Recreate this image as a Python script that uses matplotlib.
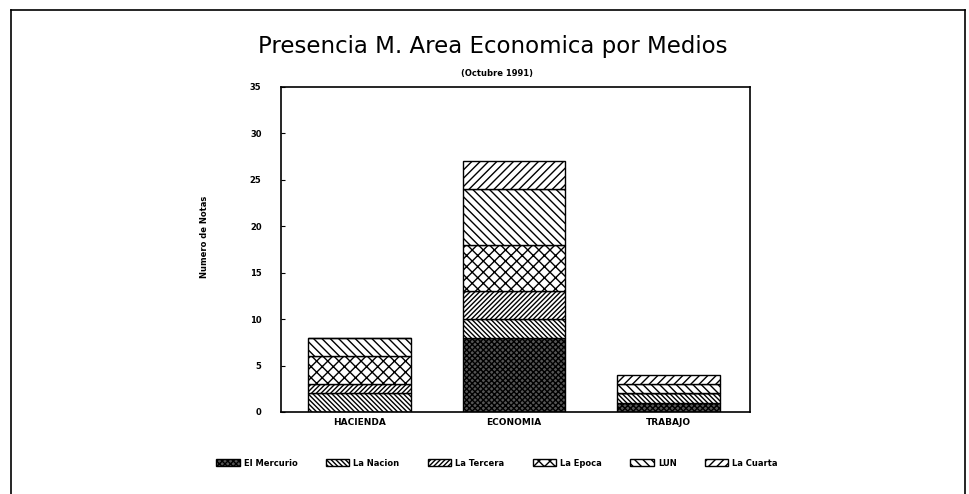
import matplotlib
matplotlib.use("Agg")
import matplotlib.pyplot as plt
from matplotlib.lines import Line2D

# datos (numero de notas)
areas = ["HACIENDA", "ECONOMIA", "TRABAJO"]
medios = ["El Mercurio", "La Nacion", "La Tercera", "La Epoca", "LUN", "La Cuarta"]
el_mercurio = [0, 8, 1]
la_nacion = [2, 2, 1]
la_tercera = [1, 3, 0]
la_epoca = [3, 5, 0]
lun = [2, 6, 1]
la_cuarta = [0, 3, 1]
y_ticks = [0, 5, 10, 15, 20, 25, 30, 35]

series = [el_mercurio, la_nacion, la_tercera, la_epoca, lun, la_cuarta]
hatches = ["xxxxxx", "\\" * 7, "/" * 7, "xxx", "\\" * 4, "/" * 4]
fills = ["#555555", "white", "white", "white", "white", "white"]

plt.rcParams["hatch.linewidth"] = 1.0
plt.rcParams["hatch.color"] = "black"

fig = plt.figure(figsize=(9.69, 4.94), dpi=100)
ax = fig.add_axes([0.290, 0.166, 0.484, 0.658])

x = list(range(len(areas)))
bottom = [0] * len(areas)
for nombre, vals, h, c in zip(medios, series, hatches, fills):
    ax.bar(x, vals, width=0.667, bottom=bottom, color=c, hatch=h,
           edgecolor="black", linewidth=1.0, label=nombre)
    bottom = [b + v for b, v in zip(bottom, vals)]

ax.set_xlim(-0.51, 2.53)
ax.set_ylim(0, 35)
ax.set_yticks(y_ticks)
ax.set_xticks(x)
ax.set_xticklabels(areas, fontsize=6.5, fontweight="bold")
ax.tick_params(axis="y", direction="in", length=3, pad=14, labelsize=6)
ax.tick_params(axis="x", length=0, pad=4)
for lab in ax.get_yticklabels():
    lab.set_fontweight("bold")
for s in ax.spines.values():
    s.set_linewidth(1.2)

fig.text(0.508, 0.905, "Presencia M. Area Economica por Medios",
         ha="center", va="center", fontsize=16.5)
fig.text(0.513, 0.852, "(Octubre 1991)", ha="center", va="center",
         fontsize=6, fontweight="bold")
fig.text(0.211, 0.52, "Numero de Notas", rotation=90, ha="center",
         va="center", fontsize=6, fontweight="bold")

fig.legend(loc="center", bbox_to_anchor=(0.513, 1 - 463 / 494), ncol=6,
           frameon=False, handlelength=2.8, handleheight=1.0,
           columnspacing=3.4, handletextpad=0.5,
           prop={"size": 6, "weight": "bold"})

# marco exterior
fig.add_artist(Line2D([0.011, 0.011], [0, 0.98], color="black", lw=1.2))
fig.add_artist(Line2D([0.011, 0.996], [0.98, 0.98], color="black", lw=1.2))
fig.add_artist(Line2D([0.996, 0.996], [0, 0.98], color="black", lw=1.2))

fig.savefig("out.png", dpi=100)
